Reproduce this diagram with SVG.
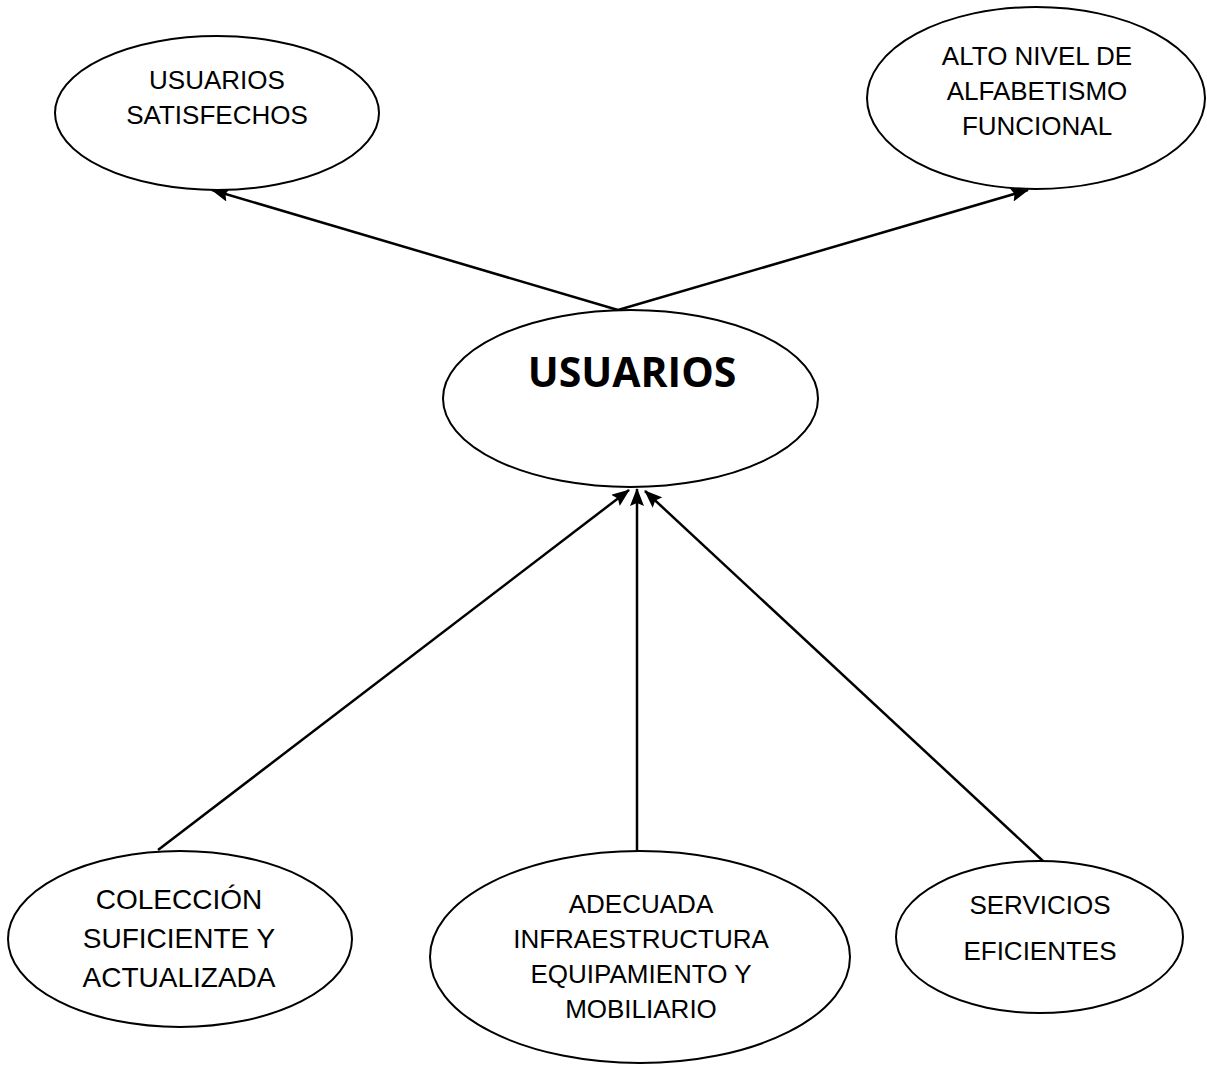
<svg xmlns="http://www.w3.org/2000/svg" width="1207" height="1065" viewBox="0 0 1207 1065">
<defs>
<style>
.n ellipse{fill:#fff;stroke:#000;stroke-width:2}
.n text{font-family:"Liberation Sans",Arial,sans-serif;font-size:26px;fill:#000;text-anchor:middle}
.n text.big{font-size:28px}
.n text.bold{font-family:"Open Sans","Noto Sans",sans-serif;font-weight:700;font-size:41px}
.c line{stroke:#000;stroke-width:2.5;fill:none}
</style>
<marker id="ah" viewBox="0 0 18 14" refX="17" refY="7" markerWidth="18" markerHeight="14" markerUnits="userSpaceOnUse" orient="auto">
<path d="M0,0 L18,7 L0,14 L3,7 Z" fill="#000"/>
</marker>
</defs>
<rect width="1207" height="1065" fill="#fff"/>
<g class="c" id="connectors">
<line x1="618" y1="310" x2="212" y2="190" marker-end="url(#ah)"/>
<line x1="618" y1="310" x2="1028" y2="190" marker-end="url(#ah)"/>
<line x1="158" y1="850" x2="629" y2="490" marker-end="url(#ah)"/>
<line x1="637" y1="851" x2="637" y2="489" marker-end="url(#ah)"/>
<line x1="1043" y1="861" x2="645" y2="491" marker-end="url(#ah)"/>
</g>
<g class="n" id="usuarios-satisfechos">
<ellipse cx="217" cy="113" rx="162" ry="77"/>
<text x="217" y="89">USUARIOS</text>
<text x="217" y="124">SATISFECHOS</text>
</g>
<g class="n" id="alto-nivel">
<ellipse cx="1036" cy="98" rx="169" ry="91"/>
<text x="1037" y="65">ALTO NIVEL DE</text>
<text x="1037" y="100">ALFABETISMO</text>
<text x="1037" y="135">FUNCIONAL</text>
</g>
<g class="n" id="usuarios">
<ellipse cx="630.5" cy="398.5" rx="187.5" ry="88.5"/>
<text class="bold" x="632" y="387">USUARIOS</text>
</g>
<g class="n" id="coleccion">
<ellipse cx="180" cy="939" rx="172" ry="88"/>
<text class="big" x="179" y="909">COLECCIÓN</text>
<text class="big" x="179" y="948">SUFICIENTE Y</text>
<text class="big" x="179" y="987">ACTUALIZADA</text>
</g>
<g class="n" id="infraestructura">
<ellipse cx="640" cy="957" rx="210" ry="106"/>
<text x="641" y="913">ADECUADA</text>
<text x="641" y="948">INFRAESTRUCTURA</text>
<text x="641" y="983">EQUIPAMIENTO Y</text>
<text x="641" y="1018">MOBILIARIO</text>
</g>
<g class="n" id="servicios">
<ellipse cx="1039.5" cy="937" rx="143.5" ry="76"/>
<text x="1040" y="914">SERVICIOS</text>
<text x="1040" y="960">EFICIENTES</text>
</g>
</svg>
